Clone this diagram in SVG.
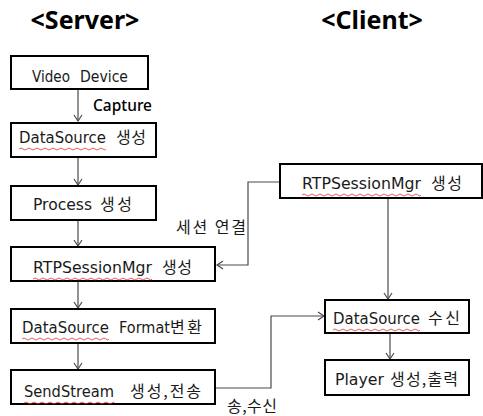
<svg xmlns="http://www.w3.org/2000/svg" width="483" height="416" viewBox="0 0 483 416">
  <style>
    .box { fill: #ffffff; stroke: #000000; stroke-width: 2; }
    .lbl { font-family: "DejaVu Sans", "Noto Sans CJK KR", sans-serif; font-size: 15px; fill: #1a1a1a; }
    .kb { font-family: "Noto Sans CJK KR", "DejaVu Sans", sans-serif; font-size: 16px; fill: #1a1a1a; }
    .ko { font-family: "Noto Sans CJK KR", "DejaVu Sans", sans-serif; font-size: 16px; fill: #1a1a1a; }
    .title { font-family: "Noto Sans", "Open Sans", sans-serif; font-size: 25px; font-weight: bold; fill: #000000; }
    .tag { font-family: "Noto Sans", "Noto Sans CJK KR", sans-serif; font-size: 16px; font-weight: 500; fill: #000000; }
    .wire { fill: none; stroke: #4a4a4a; stroke-width: 1.2; }
    .squig { fill: none; stroke: #e03030; stroke-width: 0.8; }
  </style>
  <defs>
    <marker id="arrow" markerUnits="userSpaceOnUse" markerWidth="12" markerHeight="12" refX="7" refY="5" orient="auto">
      <path d="M1,1 L7,5 L1,9" fill="none" stroke="#4a4a4a" stroke-width="1.2"/>
    </marker>
  </defs>

  <!-- column headings -->
  <text class="title" x="85" y="29" text-anchor="middle">&lt;Server&gt;</text>
  <text class="title" x="372" y="29" text-anchor="middle">&lt;Client&gt;</text>

  <!-- connectors -->
  <g id="connectors">
    <line class="wire" x1="78" y1="90" x2="78" y2="121" marker-end="url(#arrow)"/>
    <line class="wire" x1="78" y1="158" x2="78" y2="185" marker-end="url(#arrow)"/>
    <line class="wire" x1="78" y1="221" x2="78" y2="246" marker-end="url(#arrow)"/>
    <line class="wire" x1="78" y1="282" x2="78" y2="308" marker-end="url(#arrow)"/>
    <line class="wire" x1="78" y1="344" x2="78" y2="369" marker-end="url(#arrow)"/>
    <polyline class="wire" points="279,182 248,182 248,265 217,265" marker-end="url(#arrow)"/>
    <line class="wire" x1="388" y1="199" x2="388" y2="299" marker-end="url(#arrow)"/>
    <polyline class="wire" points="216,388 271,388 271,316 324,316" marker-end="url(#arrow)"/>
    <line class="wire" x1="390" y1="334" x2="390" y2="359" marker-end="url(#arrow)"/>
    <text class="tag" x="93" y="111" textLength="59" lengthAdjust="spacingAndGlyphs">Capture</text>
    <text class="ko" x="176" y="233" textLength="70" lengthAdjust="spacing">세션 연결</text>
    <text class="ko" x="227" y="412" textLength="50" lengthAdjust="spacing">송,수신</text>
  </g>

  <!-- server side -->
  <g id="video-device">
    <rect class="box" x="11" y="56" width="137" height="33"/>
    <text class="lbl" x="32" y="82" textLength="38" lengthAdjust="spacingAndGlyphs">Video</text>
    <text class="lbl" x="80" y="82" textLength="48" lengthAdjust="spacingAndGlyphs">Device</text>
  </g>
  <g id="datasource-create">
    <rect class="box" x="11" y="123" width="145" height="34"/>
    <text class="lbl" x="19" y="143" textLength="87" lengthAdjust="spacingAndGlyphs">DataSource</text>
    <text class="kb" x="116" y="143" textLength="30" lengthAdjust="spacing">생성</text>
    <path class="squig" d="M19,149 q2,-2 4,0 t4,0 t4,0 t4,0 t4,0 t4,0 t4,0 t4,0 t4,0 t4,0 t4,0 t4,0 t4,0 t4,0 t4,0 t4,0 t4,0 t4,0 t4,0 t4,0 t4,0 t3,0"/>
  </g>
  <g id="process-create">
    <rect class="box" x="11" y="186" width="145" height="34"/>
    <text class="lbl" x="33" y="210" textLength="59" lengthAdjust="spacingAndGlyphs">Process</text>
    <text class="kb" x="100" y="210" textLength="32" lengthAdjust="spacing">생성</text>
  </g>
  <g id="server-rtp">
    <rect class="box" x="11" y="247" width="204" height="34"/>
    <text class="lbl" x="33" y="273" textLength="119" lengthAdjust="spacingAndGlyphs">RTPSessionMgr</text>
    <text class="kb" x="162" y="273" textLength="30" lengthAdjust="spacing">생성</text>
    <path class="squig" d="M33,279 q2,-2 4,0 t4,0 t4,0 t4,0 t4,0 t4,0 t4,0 t4,0 t4,0 t4,0 t4,0 t4,0 t4,0 t4,0 t4,0 t4,0 t4,0 t4,0 t4,0 t4,0 t4,0 t4,0 t4,0 t4,0 t4,0 t4,0 t4,0 t4,0 t4,0 t3,0"/>
  </g>
  <g id="format-convert">
    <rect class="box" x="11" y="309" width="204" height="34"/>
    <text class="lbl" x="22" y="333" textLength="87" lengthAdjust="spacingAndGlyphs">DataSource</text>
    <text class="lbl" x="119" y="333" textLength="51" lengthAdjust="spacingAndGlyphs">Format</text>
    <text class="kb" x="170" y="333" textLength="32" lengthAdjust="spacing">변환</text>
    <path class="squig" d="M22,339 q2,-2 4,0 t4,0 t4,0 t4,0 t4,0 t4,0 t4,0 t4,0 t4,0 t4,0 t4,0 t4,0 t4,0 t4,0 t4,0 t4,0 t4,0 t4,0 t4,0 t4,0 t4,0 t3,0"/>
  </g>
  <g id="sendstream">
    <rect class="box" x="11" y="370" width="204" height="34"/>
    <text class="lbl" x="24" y="397" textLength="90" lengthAdjust="spacingAndGlyphs">SendStream</text>
    <text class="kb" x="130" y="397" textLength="71" lengthAdjust="spacing">생성,전송</text>
    <path class="squig" d="M24,403 q2,-2 4,0 t4,0 t4,0 t4,0 t4,0 t4,0 t4,0 t4,0 t4,0 t4,0 t4,0 t4,0 t4,0 t4,0 t4,0 t4,0 t4,0 t4,0 t4,0 t4,0 t4,0 t4,0 t2,0"/>
  </g>

  <!-- client side -->
  <g id="client-rtp">
    <rect class="box" x="280" y="164" width="202" height="34"/>
    <text class="lbl" x="302" y="189" textLength="119" lengthAdjust="spacingAndGlyphs">RTPSessionMgr</text>
    <text class="kb" x="431" y="189" textLength="31" lengthAdjust="spacing">생성</text>
    <path class="squig" d="M302,195 q2,-2 4,0 t4,0 t4,0 t4,0 t4,0 t4,0 t4,0 t4,0 t4,0 t4,0 t4,0 t4,0 t4,0 t4,0 t4,0 t4,0 t4,0 t4,0 t4,0 t4,0 t4,0 t4,0 t4,0 t4,0 t4,0 t4,0 t4,0 t4,0 t4,0 t3,0"/>
  </g>
  <g id="datasource-receive">
    <rect class="box" x="325" y="300" width="144" height="33"/>
    <text class="lbl" x="333" y="324" textLength="87" lengthAdjust="spacingAndGlyphs">DataSource</text>
    <text class="kb" x="428" y="324" textLength="32" lengthAdjust="spacing">수신</text>
    <path class="squig" d="M333,330 q2,-2 4,0 t4,0 t4,0 t4,0 t4,0 t4,0 t4,0 t4,0 t4,0 t4,0 t4,0 t4,0 t4,0 t4,0 t4,0 t4,0 t4,0 t4,0 t4,0 t4,0 t4,0 t3,0"/>
  </g>
  <g id="player">
    <rect class="box" x="325" y="360" width="144" height="35"/>
    <text class="lbl" x="335" y="385" textLength="49" lengthAdjust="spacingAndGlyphs">Player</text>
    <text class="kb" x="390" y="385" textLength="68" lengthAdjust="spacing">생성,출력</text>
  </g>
</svg>
